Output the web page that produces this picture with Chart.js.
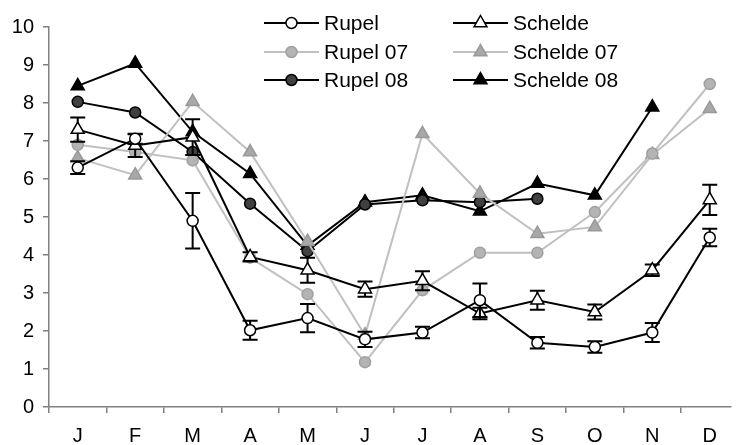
<!DOCTYPE html>
<html>
<head>
<meta charset="utf-8">
<script src="https://cdn.jsdelivr.net/npm/chart.js@4/dist/chart.umd.min.js"></script>
<style>
  html, body { margin: 0; padding: 0; background: #fff; overflow: hidden; }
  canvas { display: block; }
</style>
</head>
<body>
<canvas id="c" width="740" height="445"></canvas>
<script>
// Monthly values per site (means with standard errors) and for the 2007 / 2008 campaigns
const months = ['J', 'F', 'M', 'A', 'M', 'J', 'J', 'A', 'S', 'O', 'N', 'D'];

const rupel      = [6.30, 7.06, 4.90, 2.02, 2.34, 1.78, 1.96, 2.81, 1.69, 1.58, 1.96, 4.46];
const rupelErr   = [0.17, 0.13, 0.73, 0.25, 0.37, 0.20, 0.15, 0.44, 0.15, 0.15, 0.25, 0.23];
const schelde    = [7.30, 6.88, 7.10, 3.95, 3.60, 3.10, 3.32, 2.46, 2.81, 2.50, 3.60, 5.45];
const scheldeErr = [0.32, 0.30, 0.47, 0.12, 0.33, 0.20, 0.25, 0.15, 0.25, 0.20, 0.15, 0.40];
const rupel07    = [6.90, 6.71, 6.49, 3.93, 2.97, 1.18, 3.07, 4.06, 4.06, 5.13, 6.67, 8.50];
const schelde07  = [6.55, 6.10, 8.03, 6.71, 4.35, 1.89, 7.19, 5.62, 4.56, 4.74, 6.64, 7.85];
const rupel08    = [8.03, 7.75, 6.71, 5.35, 4.10, 5.33, 5.44, 5.39, 5.48, null, null, null];
const schelde08  = [8.45, 9.04, 7.24, 6.14, 4.25, 5.39, 5.57, 5.15, 5.88, 5.57, 7.89, null];

const yTicks = [0, 1, 2, 3, 4, 5, 6, 7, 8, 9, 10];

const FONT = '"Liberation Sans", Arial, Helvetica, sans-serif';

// Month n sits at x = n (1..12); month boundaries at n ± 0.5.
// The axis runs on past the right edge, so December's right boundary is cut off.
const X_MIN = 0.5;
const X_MAX = 12.37;

const toPoints = (arr) => arr.map((v, i) => ({ x: i + 1, y: v }));

function series(label, data, style) {
  return Object.assign({
    label,
    data: toPoints(data),
    borderWidth: 2,
    pointBorderWidth: 1.5,
    pointHoverRadius: 0,
    tension: 0,
    spanGaps: false,
    fill: false
  }, style);
}

const datasets = [
  series('Rupel', rupel, {
    errors: rupelErr,
    borderColor: '#000000', pointStyle: 'circle', pointRadius: 5.5,
    pointBackgroundColor: '#ffffff', pointBorderColor: '#000000'
  }),
  series('Schelde', schelde, {
    errors: scheldeErr,
    borderColor: '#000000', pointStyle: 'triangle', pointRadius: 7.5,
    pointBackgroundColor: '#ffffff', pointBorderColor: '#000000'
  }),
  series('Rupel 07', rupel07, {
    borderColor: '#c0c0c0', pointStyle: 'circle', pointRadius: 5.5,
    pointBackgroundColor: '#b4b4b4', pointBorderColor: '#a0a0a0'
  }),
  series('Schelde 07', schelde07, {
    borderColor: '#c0c0c0', pointStyle: 'triangle', pointRadius: 7.5,
    pointBackgroundColor: '#a8a8a8', pointBorderColor: '#999999'
  }),
  series('Rupel 08', rupel08, {
    borderColor: '#000000', pointStyle: 'circle', pointRadius: 5.5,
    pointBackgroundColor: '#404040', pointBorderColor: '#000000'
  }),
  series('Schelde 08', schelde08, {
    borderColor: '#000000', pointStyle: 'triangle', pointRadius: 7.5,
    pointBackgroundColor: '#000000', pointBorderColor: '#000000'
  })
];

// Error bars (± standard error) drawn just beneath their own series
const errorBars = {
  id: 'errorBars',
  beforeDatasetDraw(chart, args) {
    const ds = chart.data.datasets[args.index];
    if (!ds.errors) return;
    const ys = chart.scales.y;
    const ctx = chart.ctx;
    ctx.save();
    ctx.strokeStyle = '#000000';
    ctx.lineWidth = 2;
    args.meta.data.forEach((pt, i) => {
      const v = ds.data[i].y, e = ds.errors[i];
      if (v == null || e == null) return;
      const x = pt.x;
      const top = ys.getPixelForValue(v + e);
      const bot = ys.getPixelForValue(v - e);
      const cap = 7.5;
      ctx.beginPath();
      ctx.moveTo(x, top); ctx.lineTo(x, bot);
      ctx.moveTo(x - cap, top); ctx.lineTo(x + cap, top);
      ctx.moveTo(x - cap, bot); ctx.lineTo(x + cap, bot);
      ctx.stroke();
    });
    ctx.restore();
  }
};

// Two-column legend inside the plot area
const boxLegend = {
  id: 'boxLegend',
  afterDraw(chart) {
    const ctx = chart.ctx;
    const cols = [264, 453];
    const rows = [23, 52, 80];
    const lineLen = 55;
    chart.data.datasets.forEach((ds, i) => {
      const x0 = cols[i % 2];
      const y = rows[Math.floor(i / 2)];
      ctx.save();
      ctx.strokeStyle = ds.borderColor;
      ctx.lineWidth = ds.borderWidth;
      ctx.beginPath();
      ctx.moveTo(x0, y); ctx.lineTo(x0 + lineLen, y);
      ctx.stroke();
      ctx.fillStyle = ds.pointBackgroundColor;
      ctx.strokeStyle = ds.pointBorderColor;
      ctx.lineWidth = ds.pointBorderWidth;
      Chart.helpers.drawPoint(ctx, {
        pointStyle: ds.pointStyle, radius: ds.pointRadius,
        borderWidth: ds.pointBorderWidth, rotation: 0
      }, x0 + lineLen / 2, y);
      ctx.fillStyle = '#000000';
      ctx.font = '21px ' + FONT;
      ctx.textBaseline = 'middle';
      ctx.textAlign = 'left';
      ctx.fillText(ds.label, x0 + lineLen + 5, y + 1);
      ctx.restore();
    });
  }
};

const isMonthCentre = (v) => Number.isInteger(v);

new Chart(document.getElementById('c'), {
  type: 'line',
  data: { datasets },
  options: {
    responsive: false,
    animation: false,
    events: [],
    layout: { padding: { top: 27, left: 0, right: 0, bottom: 0 } },
    plugins: { legend: { display: false }, tooltip: { enabled: false } },
    scales: {
      x: {
        type: 'linear',
        min: X_MIN, max: X_MAX,
        afterBuildTicks(s) {
          const t = [];
          months.forEach((m, i) => { t.push({ value: i + 0.5 }); t.push({ value: i + 1 }); });
          s.ticks = t;
        },
        grid: {
          drawOnChartArea: false, tickLength: 6, lineWidth: 1.5,
          color: (c) => (c.tick && isMonthCentre(c.tick.value)) ? 'rgba(0,0,0,0)' : '#808080'
        },
        border: { color: '#808080', width: 1.5 },
        ticks: {
          color: '#000000', font: { family: FONT, size: 20 }, padding: 11,
          maxRotation: 0, autoSkip: false,
          callback: (v) => isMonthCentre(v) ? months[v - 1] : ''
        },
        afterFit(s) { s.height = 38; s.paddingLeft = 0; s.paddingRight = 0; }
      },
      y: {
        min: 0, max: 10,
        afterBuildTicks(s) { s.ticks = yTicks.map(v => ({ value: v })); },
        grid: { drawOnChartArea: false, tickLength: 6, color: '#808080', lineWidth: 1.5 },
        border: { color: '#808080', width: 1.5 },
        ticks: { color: '#000000', font: { family: FONT, size: 20 }, padding: 9 },
        afterFit(s) { s.width = 49; }
      }
    }
  },
  plugins: [errorBars, boxLegend]
});
</script>
</body>
</html>
